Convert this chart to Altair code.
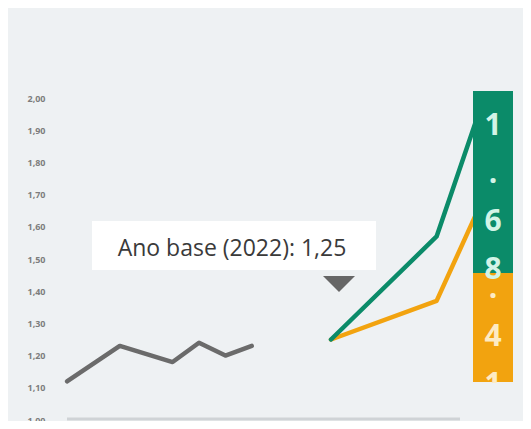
import altair as alt
import pandas as pd

# ---- data ----
anos_hist = [2012, 2014, 2016, 2017, 2018, 2019]
valores_hist = [1.12, 1.23, 1.18, 1.24, 1.20, 1.23]

anos_proj = [2022, 2026, 2027.5]
valores_alto = [1.25, 1.57, 1.93]
valores_baixo = [1.25, 1.37, 1.64]

rotulo_alto = "1.68"
rotulo_baixo = "1.41"

ano_base = 2022
valor_base = 1.25

y_ticks = [1.0, 1.1, 1.2, 1.3, 1.4, 1.5, 1.6, 1.7, 1.8, 1.9, 2.0]

# ---- styles ----
VERDE = "#0b8b69"
LARANJA = "#f2a30f"
CINZA = "#6b6b6b"
FUNDO = "#eef1f3"

df_hist = pd.DataFrame({"ano": anos_hist, "valor": valores_hist})
df_baixo = pd.DataFrame({"ano": anos_proj, "valor": valores_baixo, "serie": "Cenário baixo"})
df_alto = pd.DataFrame({"ano": anos_proj, "valor": valores_alto, "serie": "Cenário alto"})

x_scale = alt.Scale(domain=[2012, 2027.5], range=[14, 423.2], nice=False, zero=False)
y_scale = alt.Scale(domain=[1.0, 2.0], range=[412, 90], nice=False, zero=False)

y_axis = alt.Axis(
    values=y_ticks,
    labelExpr="replace(format(datum.value, '.2f'), '.', ',')",
    ticks=False, domain=False, grid=False,
    labelFontSize=9, labelColor="#7d7d7d", labelPadding=8,
    labelFont="Open Sans", labelFontWeight="bold", title=None,
)

X = alt.X("ano:Q", scale=x_scale, axis=None)
Y = alt.Y("valor:Q", scale=y_scale, axis=y_axis)

line_style = dict(strokeWidth=4.5, strokeCap="round", strokeJoin="round")

hist = alt.Chart(df_hist).mark_line(color=CINZA, **line_style).encode(x=X, y=Y)
baixo = alt.Chart(df_baixo).mark_line(color=LARANJA, **line_style).encode(x=X, y=Y)
alto = alt.Chart(df_alto).mark_line(color=VERDE, **line_style).encode(x=X, y=Y)

# bottom baseline
base_df = pd.DataFrame({"k": [0]})
linha_base = alt.Chart(base_df).mark_rule(color="#cfd3d6", strokeWidth=3).encode(
    x=alt.value(14), x2=alt.value(407), y=alt.value(411)
)

# annotation box
texto_anot = f"Ano base ({ano_base}): " + f"{valor_base:.2f}".replace(".", ",")
anot_df = pd.DataFrame({"texto": [texto_anot]})
caixa = alt.Chart(anot_df).mark_rect(color="white").encode(
    x=alt.value(39), x2=alt.value(323), y=alt.value(213), y2=alt.value(262)
)
texto = alt.Chart(anot_df).mark_text(
    font="Open Sans", fontSize=23, color="#3a3a3a", align="center", baseline="middle"
).encode(text="texto:N", x=alt.value(179), y=alt.value(241))
seta = alt.Chart(anot_df).mark_point(
    shape="M-1,-0.5L1,-0.5L0,0.5Z", size=1024, filled=True, color="#666666", opacity=1
).encode(x=alt.value(286), y=alt.value(276))

# end labels (stacked characters)
rot_df_b = pd.DataFrame({"rotulo": [rotulo_baixo]})
rot_df_a = pd.DataFrame({"rotulo": [rotulo_alto]})

box_b = alt.Chart(rot_df_b).mark_rect(color=LARANJA).encode(
    x=alt.value(420), x2=alt.value(460), y=alt.value(265), y2=alt.value(374)
)
txt_b = alt.Chart(rot_df_b).transform_calculate(
    chars="join(split(datum.rotulo, ''), '\\n')"
).mark_text(
    font="Open Sans", fontSize=30, fontWeight="bold", color="#fdebc4",
    lineBreak="\n", lineHeight=48, align="center", baseline="middle"
).encode(text="chars:N", x=alt.value(440), y=alt.value(233))
# label overflow hidden below the orange box
mascara_b = alt.Chart(rot_df_b).mark_rect(color=FUNDO).encode(
    x=alt.value(418), x2=alt.value(462), y=alt.value(375), y2=alt.value(413)
)

box_a = alt.Chart(rot_df_a).mark_rect(color=VERDE).encode(
    x=alt.value(420), x2=alt.value(460), y=alt.value(83), y2=alt.value(265)
)
txt_a = alt.Chart(rot_df_a).transform_calculate(
    chars="join(split(datum.rotulo, ''), '\\n')"
).mark_text(
    font="Open Sans", fontSize=30, fontWeight="bold", color="#d3f4e7",
    lineBreak="\n", lineHeight=48, align="center", baseline="middle"
).encode(text="chars:N", x=alt.value(440), y=alt.value(118))

chart = alt.layer(
    linha_base, hist, baixo, alto, caixa, texto, seta,
    box_b, txt_b, mascara_b, box_a, txt_a
).properties(
    width=470, height=413,
    autosize=alt.AutoSizeParams(type="none"),
    padding={"left": 45, "top": 0, "right": 0, "bottom": 0},
    background=FUNDO,
).configure_view(stroke=None)

chart.save("out.html", embed_options={"renderer": "svg", "actions": False})
